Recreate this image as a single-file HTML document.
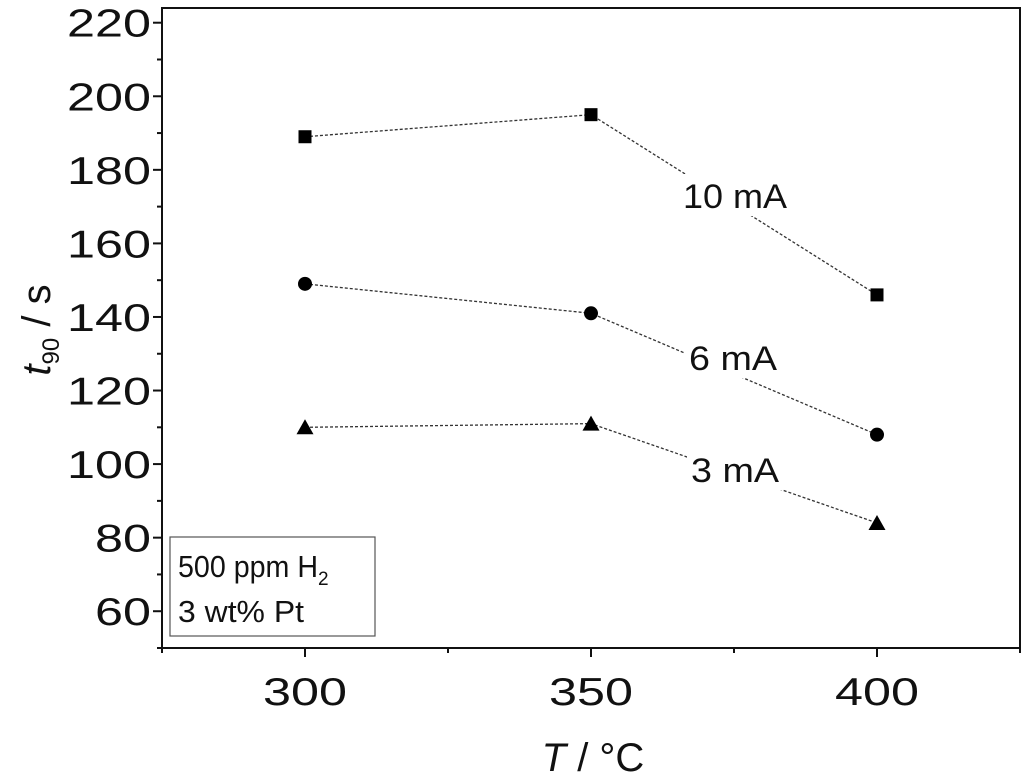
<!DOCTYPE html>
<html><head><meta charset="utf-8"><style>
body{margin:0;background:#fff}
svg text{font-family:"Liberation Sans",Arial,sans-serif;fill:#111}
</style></head><body>
<svg width="1024" height="778" viewBox="0 0 1024 778">
<g id="g"></g>
</svg>
<script>
const temps=[300,350,400];
const s10=[189,195,146];
const s6=[149,141,108];
const s3=[110,111,84];
const yTicks=[60,80,100,120,140,160,180,200,220];
const xTicks=[300,350,400];
const L=162,R=1020,T=8,B=648;
const X=v=>L+(v-275)/150*(R-L);
const Y=v=>B-(v-50)/(224-50)*(B-T);
const NS='http://www.w3.org/2000/svg';
const g=document.getElementById('g');
function mk(t,a,p){const e=document.createElementNS(NS,t);for(const k in a)e.setAttribute(k,a[k]);(p||g).appendChild(e);return e;}
let frame=mk('rect',{x:L,y:T,width:R-L,height:B-T,fill:'none',stroke:'#111','stroke-width':2});


for(let v=50;v<=220;v+=10){const maj=v%20==0;const t=mk('line',{x1:L,x2:L-(maj?9:5),y1:Y(v),y2:Y(v),stroke:'#111','stroke-width':2});

}
yTicks.forEach(v=>{const t=mk('text',{x:L-11,y:Y(v)+14,'text-anchor':'end','font-size':39,textLength:v>=100?84:56,lengthAdjust:'spacingAndGlyphs'});t.textContent=v;

});
for(let v=275;v<=425;v+=25){const maj=v%50==0;const t=mk('line',{x1:X(v),x2:X(v),y1:B,y2:B+(maj?9:5),stroke:'#111','stroke-width':2});

}
xTicks.forEach(v=>{const t=mk('text',{x:X(v),y:705,'text-anchor':'middle','font-size':39,textLength:84,lengthAdjust:'spacingAndGlyphs'});t.textContent=v;

});
let xt=mk('text',{x:593,y:771,'text-anchor':'middle','font-size':40});
xt.innerHTML='<tspan font-style="italic">T</tspan> / °C';


let yt=mk('text',{transform:'translate(50,330) rotate(-90)','text-anchor':'middle','font-size':40});
yt.innerHTML='<tspan font-style="italic">t</tspan><tspan font-size="24" dy="9">90</tspan><tspan dy="-9"> / s</tspan>';


function series(vals,shape,name){
  const pts=vals.map((v,i)=>X(temps[i])+','+Y(v)).join(' ');
  const pl=mk('polyline',{points:pts,fill:'none',stroke:'#333','stroke-width':1.3,'stroke-dasharray':'3,2'});
  
  
  vals.forEach((v,i)=>{const x=X(temps[i]),y=Y(v);let m;
    if(shape=='sq')m=mk('rect',{x:x-6.5,y:y-6.5,width:13,height:13,fill:'#000'});
    else if(shape=='ci')m=mk('circle',{cx:x,cy:y,r:7,fill:'#000'});
    else m=mk('polygon',{points:`${x},${y-8} ${x-8.5},${y+7} ${x+8.5},${y+7}`,fill:'#000'});
    
    });
}
series(s10,'sq','series-10ma');series(s6,'ci','series-6ma');series(s3,'tr','series-3ma');
[['10 mA',735,196,104],['6 mA',733,358,88],['3 mA',735,470,88]].forEach(([t,x,y,w])=>{
  const r=mk('rect',{x:x-w/2-4,y:y-22,width:w+8,height:42,fill:'#fff'});
  
  
  const e=mk('text',{x:x,y:y+12,'text-anchor':'middle','font-size':34,textLength:w,lengthAdjust:'spacingAndGlyphs'});e.textContent=t;
  
  
});
let lb=mk('rect',{x:170,y:537,width:205,height:99,fill:'#fff',stroke:'#555','stroke-width':1.2});


let a1=mk('text',{x:178,y:577,'font-size':31});a1.innerHTML='<tspan textLength="140" lengthAdjust="spacingAndGlyphs">500 ppm H</tspan><tspan font-size="19" dy="8">2</tspan>';


let a2=mk('text',{x:178,y:622,'font-size':31,textLength:126,lengthAdjust:'spacingAndGlyphs'});a2.textContent='3 wt% Pt';


</script>
</body></html>
